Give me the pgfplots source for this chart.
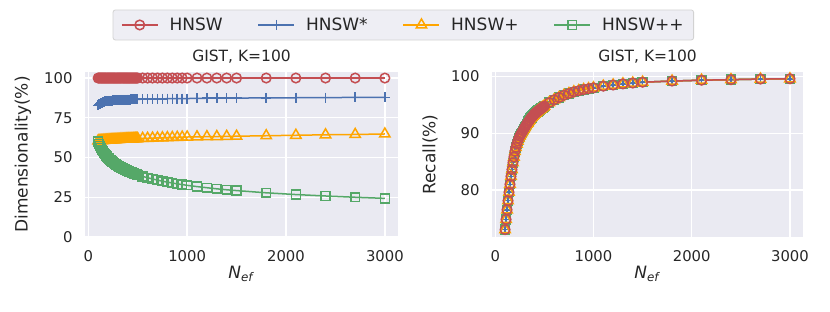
\documentclass[border=0pt]{standalone}
\usepackage{pgfplots}
\usepackage{pgfplotstable}
\pgfplotsset{compat=1.18}
\usepackage{fontspec}
\setmainfont{DejaVu Sans}
\definecolor{bgc}{HTML}{EAEAF2}
\definecolor{txt}{HTML}{262626}
\definecolor{cred}{HTML}{C44E52}
\definecolor{cblue}{HTML}{4C72B0}
\definecolor{corange}{HTML}{FFA500}
\definecolor{cgreen}{HTML}{55A868}
\definecolor{legbg}{HTML}{EEEEF4}
\definecolor{legedge}{HTML}{D2D2D2}

\pgfplotstableread{
N d1 d2 d3 d4 r
100 100 82.8 60.5 60.0 73.0
110 100 83.4 60.6 58.5 74.8
120 100 83.9 60.6 57.2 76.5
130 100 84.3 60.7 56.0 78.1
140 100 84.6 60.7 54.9 79.6
150 100 84.9 60.8 53.9 81.0
160 100 85.1 60.8 52.9 82.4
170 100 85.3 60.9 52.1 83.6
180 100 85.4 60.9 51.3 84.8
190 100 85.5 61.0 50.6 85.8
200 100 85.6 61.0 49.9 86.8
210 100 85.7 61.05 49.3 87.5
220 100 85.7 61.1 48.6 88.1
230 100 85.8 61.15 48.1 88.6
240 100 85.8 61.2 47.5 89.1
250 100 85.9 61.2 47.0 89.5
260 100 85.9 61.25 46.5 89.8
270 100 86.0 61.3 46.1 90.1
280 100 86.0 61.3 45.6 90.4
290 100 86.1 61.35 45.2 90.7
300 100 86.1 61.4 44.8 91.0
310 100 86.1 61.4 44.4 91.3
320 100 86.2 61.45 44.0 91.6
330 100 86.2 61.5 43.7 91.8
340 100 86.2 61.5 43.3 92.1
350 100 86.3 61.55 43.0 92.3
360 100 86.3 61.6 42.7 92.6
370 100 86.3 61.6 42.4 92.8
380 100 86.3 61.65 42.1 93.0
390 100 86.4 61.7 41.8 93.2
400 100 86.4 61.7 41.5 93.4
410 100 86.4 61.7 41.2 93.55
420 100 86.4 61.75 41.0 93.7
430 100 86.5 61.75 40.7 93.85
440 100 86.5 61.8 40.5 94.0
450 100 86.5 61.8 40.2 94.1
460 100 86.5 61.85 40.0 94.25
470 100 86.6 61.85 39.8 94.4
480 100 86.6 61.9 39.5 94.5
490 100 86.6 61.9 39.3 94.65
500 100 86.6 61.9 39.1 94.8
550 100 86.7 62.0 38.1 95.4
600 100 86.8 62.1 37.3 95.9
650 100 86.8 62.2 36.5 96.3
700 100 86.9 62.3 35.8 96.7
750 100 86.9 62.4 35.1 97.0
800 100 87.0 62.5 34.5 97.3
850 100 87.0 62.6 34.0 97.5
900 100 87.1 62.7 33.4 97.7
950 100 87.1 62.8 33.0 97.85
1000 100 87.1 62.9 32.5 98.0
1100 100 87.2 63.0 31.7 98.3
1200 100 87.3 63.1 31.0 98.5
1300 100 87.3 63.2 30.3 98.7
1400 100 87.4 63.3 29.7 98.85
1500 100 87.4 63.4 29.2 99.0
1800 100 87.5 63.7 27.8 99.2
2100 100 87.6 64.0 26.7 99.35
2400 100 87.7 64.3 25.8 99.45
2700 100 87.8 64.5 25.0 99.55
3000 100 87.9 64.8 24.3 99.6
}\datatab

\pgfplotsset{
  sbstyle/.style={
    scale only axis,
    anchor=south west,
    axis background/.style={fill=bgc},
    grid=major,
    major grid style={white, line width=1.3pt},
    axis line style={draw=none},
    tick style={draw=none},
    xtick={0,1000,2000,3000},
    scaled ticks=false,
    /pgf/number format/1000 sep={},
    /pgf/number format/assume math mode=true,
    tick label style={font=\fontsize{14.8}{16}\selectfont, text=txt},
    xticklabel style={yshift=-10pt},
    yticklabel style={xshift=-9pt},
    every axis x label/.style={at={(axis description cs:0.5,-0.225)}, anchor=center, font=\fontsize{17}{19}\selectfont, text=txt},
    every axis title/.style={at={(axis description cs:0.5,1.091)}, anchor=center, font=\fontsize{15.5}{18}\selectfont, text=txt},
    xlabel={\textit{N}\textsubscript{\textit{ef}}},
    title={GIST, K=100},
    xmin=-33, xmax=3133,
    every axis plot/.append style={line width=1.5pt},
    legend image code/.code={\draw[mark repeat=2,mark phase=2,#1] plot coordinates {(0pt,0pt) (18pt,0pt) (36pt,0pt)};},
  },
  sred/.style={color=cred, mark=o, mark size=4.8pt, mark options={solid}},
  sblue/.style={color=cblue, mark=+, mark size=5pt, mark options={solid}},
  sorange/.style={color=corange, mark=triangle, mark size=6pt, mark options={solid}},
  sgreen/.style={color=cgreen, mark=square, mark size=4.4pt, mark options={solid}},
}

\begin{document}
\begin{tikzpicture}
\useasboundingbox (0pt,0pt) rectangle (830pt,312pt);
\begin{axis}[sbstyle,
  at={(85pt,75pt)}, width=313pt, height=165pt,
  ymin=0, ymax=103.8, ytick={0,25,50,75,100},
  every axis y label/.style={at={(axis description cs:-0.198,0.5)}, rotate=90, anchor=center, font=\fontsize{17}{19}\selectfont, text=txt},
  ylabel={Dimensionality(\%)},
  legend columns=4,
  legend style={at={(1.017,1.285)}, anchor=center, fill=legbg, draw=legedge, line width=0.8pt, rounded corners=2.5pt,
    font=\fontsize{17}{19}\selectfont, text=txt, inner xsep=8pt, inner ysep=6pt,
    /tikz/every odd column/.append style={column sep=9pt},
    /tikz/every even column/.append style={column sep=33pt}},
]
\addplot[sred] table[x=N, y=d1] {\datatab};
\addlegendentry{HNSW}
\addplot[sblue] table[x=N, y=d2] {\datatab};
\addlegendentry{HNSW*}
\addplot[sorange] table[x=N, y=d3] {\datatab};
\addlegendentry{HNSW+}
\addplot[sgreen] table[x=N, y=d4] {\datatab};
\addlegendentry{HNSW++}
\end{axis}

\begin{axis}[sbstyle,
  at={(492pt,75pt)}, width=311pt, height=165pt,
  ymin=71.7, ymax=100.8, ytick={80,90,100},
  every axis y label/.style={at={(axis description cs:-0.199,0.5)}, rotate=90, anchor=center, font=\fontsize{17}{19}\selectfont, text=txt},
  ylabel={Recall(\%)},
]
\addplot[sgreen] table[x=N, y=r] {\datatab};
\addplot[sblue] table[x=N, y=r] {\datatab};
\addplot[sorange] table[x=N, y=r] {\datatab};
\addplot[sred] table[x=N, y=r] {\datatab};
\end{axis}
\end{tikzpicture}
\end{document}
